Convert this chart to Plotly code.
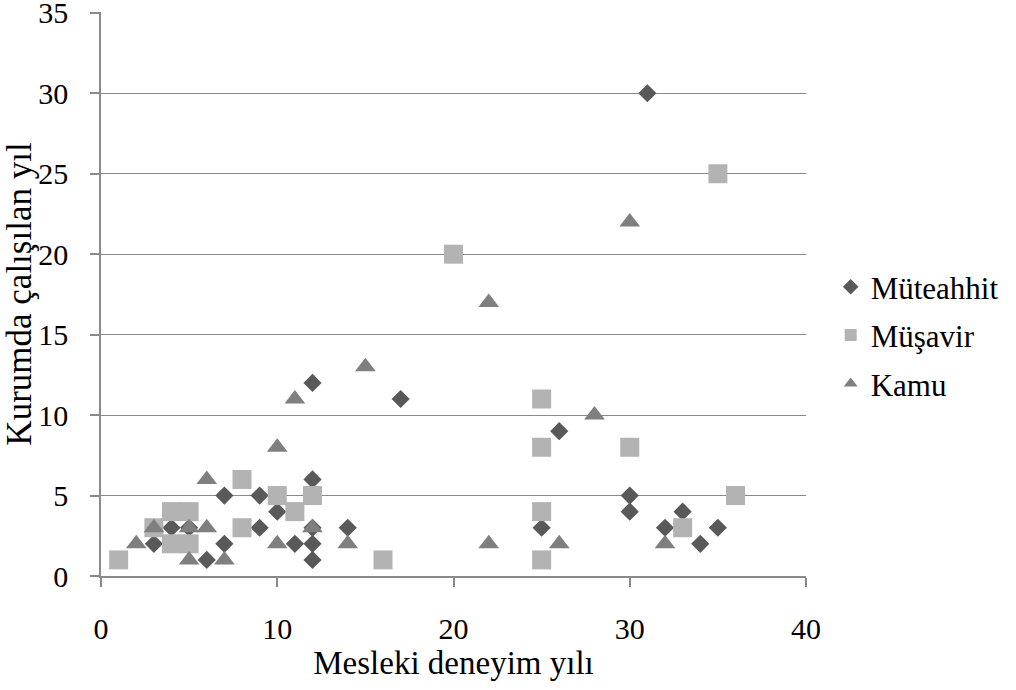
import plotly.graph_objects as go

# Müteahhit (contractor) respondents: experience vs. years in institution
muteahhit_x = [31, 12, 17, 26, 12, 7, 9, 30, 10, 30, 33, 4, 5, 9, 12, 14, 25, 32, 35, 3, 7, 11, 12, 34, 6, 12]
muteahhit_y = [30, 12, 11, 9, 6, 5, 5, 5, 4, 4, 4, 3, 3, 3, 3, 3, 3, 3, 3, 2, 2, 2, 2, 2, 1, 1]

# Müşavir (consultant) respondents
musavir_x = [1, 3, 4, 5, 4, 5, 8, 8, 10, 11, 12, 16, 20, 25, 25, 25, 25, 30, 33, 35, 36]
musavir_y = [1, 3, 4, 4, 2, 2, 6, 3, 5, 4, 5, 1, 20, 11, 8, 4, 1, 8, 3, 25, 5]

# Kamu (public sector) respondents
kamu_x = [2, 3, 5, 6, 6, 5, 7, 10, 10, 11, 12, 14, 15, 22, 22, 26, 28, 30, 32]
kamu_y = [2, 3, 3, 3, 6, 1, 1, 8, 2, 11, 3, 2, 13, 17, 2, 2, 10, 22, 2]

x_ticks = [0, 10, 20, 30, 40]
y_ticks = [0, 5, 10, 15, 20, 25, 30, 35]

FONT = "Liberation Serif, Times New Roman, serif"
GRID = "#8a8a8a"

fig = go.Figure()
fig.add_trace(go.Scatter(
    x=muteahhit_x, y=muteahhit_y, mode="markers", name="Müteahhit",
    legendgroup="a",
    marker=dict(symbol="diamond", size=14, color="#595959", line=dict(width=0)),
))
fig.add_trace(go.Scatter(
    x=musavir_x, y=musavir_y, mode="markers", name="Müşavir",
    legendgroup="b",
    marker=dict(symbol="square", size=19, color="#b3b3b3", line=dict(width=0)),
))
fig.add_trace(go.Scatter(
    x=kamu_x, y=kamu_y, mode="markers", name="Kamu",
    legendgroup="c",
    marker=dict(symbol="triangle-up", size=18, color="#7f7f7f", line=dict(width=0)),
))

fig.update_layout(
    width=1016, height=690,
    margin=dict(l=101, r=210, t=12, b=114),
    paper_bgcolor="white", plot_bgcolor="white",
    font=dict(family=FONT, size=31, color="black"),
    legend=dict(
        x=1.035, y=0.427, xanchor="left", yanchor="middle",
        font=dict(family=FONT, size=31, color="black"),
        tracegroupgap=5, itemsizing="constant",
        bgcolor="rgba(0,0,0,0)",
    ),
    xaxis=dict(
        range=[0, 40], tickvals=x_ticks, showgrid=False, zeroline=False,
        showline=True, linecolor=GRID, linewidth=1.5,
        ticks="outside", ticklen=9, tickcolor=GRID, tickwidth=1.5,
        ticklabelstandoff=16, ticklabeloverflow="allow", automargin=False,
        title=dict(text="Mesleki deneyim yılı", font=dict(family=FONT, size=33), standoff=0),
        tickfont=dict(family=FONT, size=30),
    ),
    yaxis=dict(
        range=[0, 35.05], tickvals=y_ticks, showgrid=True, gridcolor=GRID, gridwidth=1,
        zeroline=False, showline=True, linecolor=GRID, linewidth=1.5,
        ticks="outside", ticklen=9, tickcolor=GRID, tickwidth=1.5,
        ticklabelstandoff=16, ticklabeloverflow="allow", automargin=False,
        title=dict(text="Kurumda çalışılan yıl", font=dict(family=FONT, size=35), standoff=7),
        tickfont=dict(family=FONT, size=30),
    ),
)

fig.write_html("out.html")
